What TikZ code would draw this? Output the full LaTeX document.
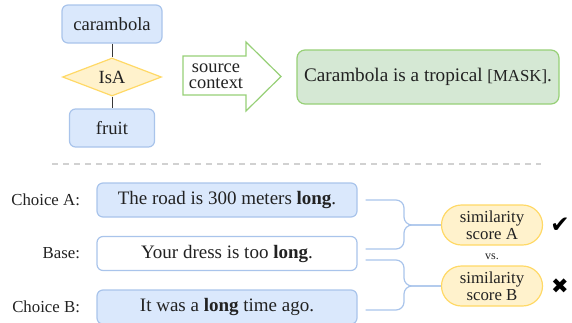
\documentclass[tikz,border=0pt]{standalone}
\usepackage{fontspec}
\setmainfont{Liberation Serif}
\newfontfamily\symfont{DejaVu Sans}
\usepackage{tikz}
\usetikzlibrary{shapes,arrows.meta,positioning}

\definecolor{boxblue}{HTML}{DAE8FC}
\definecolor{lineblue}{HTML}{A9C4EB}
\definecolor{boxgreen}{HTML}{D5E8D4}
\definecolor{linegreen}{HTML}{97D077}
\definecolor{boxyellow}{HTML}{FFF2CC}
\definecolor{lineyellow}{HTML}{FFD966}
\definecolor{textdark}{HTML}{222222}

\begin{document}
\begin{tikzpicture}[x=0.5pt, y=-0.5pt, node distance=1cm and 0.6cm,
    every node/.style={font=\fontsize{9.3}{10}\selectfont, text=textdark},
    concept/.style={draw=lineblue, fill=boxblue, rounded corners=3pt, line width=0.6pt, minimum height=19pt},
    relbox/.style={draw=lineyellow, fill=boxyellow, diamond, aspect=2.6, line width=0.6pt, inner sep=0pt, minimum width=49.5pt, minimum height=19pt},
    sentbox/.style={draw=lineblue, fill=boxblue, rounded corners=3pt, line width=0.6pt, minimum width=130pt, minimum height=17pt, font=\fontsize{9.5}{10}\selectfont},
    simbox/.style={draw=lineyellow, fill=boxyellow, rounded corners=10pt, line width=0.6pt, minimum width=50.5pt, minimum height=20pt, align=center, inner sep=1pt, font=\fontsize{8.4}{8.6}\selectfont},
    tag/.style={font=\fontsize{8.4}{9}\selectfont},
    link/.style={draw=lineblue, line width=0.6pt, rounded corners=4pt}]
    \useasboundingbox (0,0) rectangle (572,322);

    % knowledge triple
    \node[concept, minimum width=50pt] (head) at (112,24) {carambola};
    \node[relbox] (rel) at (112,77) {IsA};
    \node[concept, minimum width=42.5pt] (tail) at (112,128) {fruit};
    \draw[textdark!90, line width=0.5pt] (head) -- (rel);
    \draw[textdark!90, line width=0.5pt] (rel) -- (tail);

    % arrow to the prompt
    \draw[linegreen, fill=white, line width=0.6pt] (183,56) -- (246,56) -- (246,42) -- (281,76.5) -- (246,111) -- (246,95) -- (183,95) -- cycle;
    \node[align=center, font=\fontsize{9.2}{8}\selectfont] (ctx) at (216,76) {source\\context};

    \node[draw=linegreen, fill=boxgreen, rounded corners=4pt, line width=0.6pt, minimum width=131pt, minimum height=27pt, font=\fontsize{9.6}{10}\selectfont] (prompt) at (428,77) {Carambola is a tropical {\fontsize{8.4}{10}\selectfont[MASK]}.};

    \draw[black!18, line width=1pt, dash pattern=on 3pt off 2.5pt] (52,164) -- (541,164);

    % sentences
    \node[sentbox] (chA) at (227,200) {The road is 300 meters \textbf{long}.};
    \node[sentbox, fill=white] (base) at (227,253.5) {Your dress is too \textbf{long}.};
    \node[sentbox] (chB) at (227,307) {It was a \textbf{long} time ago.};
    \node[tag, left=4.7pt of chA] (labA) {Choice A:};
    \node[tag, left=4.7pt of base] (labBase) {Base:};
    \node[tag, left=4.7pt of chB] (labB) {Choice B:};

    % scores
    \node[simbox] (simA) at (492,225) {similarity\\score A};
    \node[simbox] (simB) at (492,286) {similarity\\score B};
    \node[font=\fontsize{6}{7}\selectfont] (vs) at (492,257) {vs.};
    \node[font=\symfont\fontsize{11.5}{12}\selectfont, text=black, inner sep=0pt] (ok) at (560,225) {✔};
    \node[font=\symfont\fontsize{10.5}{12}\selectfont, text=black, inner sep=0pt] (bad) at (560,286) {✖};

    \coordinate (jA) at (404,225);
    \coordinate (jB) at (404,286);
    \draw[link] ([xshift=4pt]chA.east) -| (jA) -- (simA.west);
    \draw[link] ([xshift=4pt,yshift=2.25pt]base.east) -| (jA) -- (simA.west);
    \draw[link] ([xshift=4pt,yshift=-3.25pt]base.east) -| (jB) -- (simB.west);
    \draw[link] ([xshift=4pt,yshift=-1.5pt]chB.east) -| (jB) -- (simB.west);
\end{tikzpicture}
\end{document}
